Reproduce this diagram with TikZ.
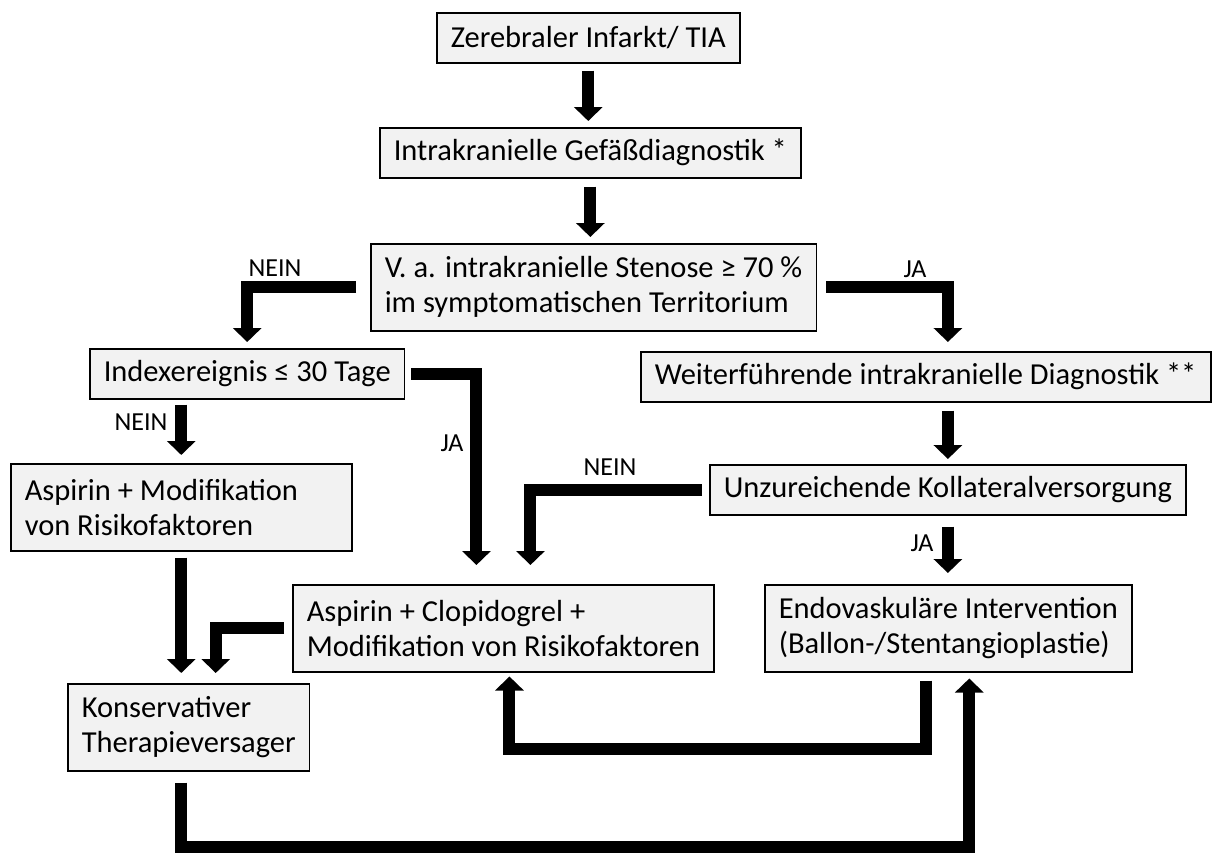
\documentclass[tikz,border=0pt]{standalone}
\usepackage{fontspec}
\setmainfont{Carlito}
\usetikzlibrary{arrows.meta,positioning,calc}
\definecolor{boxfill}{HTML}{F2F2F2}
\tikzset{
  box/.style={
    draw=black,
    fill=boxfill,
    line width=1.5pt,
    align=flush left,
    anchor=north west,
    inner xsep=14pt,
    inner ysep=0pt,
    font=\fontsize{30.5}{35}\selectfont,
  },
  single/.style={box, minimum height=50pt},
  double/.style={box, minimum height=87pt},
  flow/.style={
    -{Triangle[width=28pt, length=14pt]},
    line width=12pt,
    line join=miter,
  },
  tag/.style={
    font=\fontsize{26}{28}\selectfont,
    inner sep=0pt,
  },
}

\begin{document}
\begin{tikzpicture}[x=1pt, y=-1pt]
\useasboundingbox (0,0) rectangle (1212,852);

% === Main column ===
\node[single] (infarkt) at (436,12) {Zerebraler Infarkt/ TIA};
\node[single] (gefaess) at (379,127) {Intrakranielle Gefäßdiagnostik *};
\node[double] (stenose) at (370,243)
  {V. a. intrakranielle Stenose ≥ 70 \%\\im symptomatischen Territorium};

\draw[flow, shorten <=7pt, shorten >=6pt] (infarkt.south) -- (infarkt.south |- gefaess.north);
\draw[flow, shorten <=8pt, shorten >=6pt] (gefaess.south) -- (gefaess.south |- stenose.north);

% === Left branch ===
\node[single] (index) at (89,348) {Indexereignis ≤ 30 Tage};
\node[double, text width=313pt] (aspmod) at (10,463) {Aspirin + Modifikation\\von Risikofaktoren};
\node[double] (konserv) at (67,683) {Konservativer\\Therapieversager};

\node[tag] (nein1) at (275,268) {NEIN};
\node[tag] (nein2) at (141,422) {NEIN};
\node[tag] (ja2) at (452,443) {JA};

\draw[flow, shorten <=14pt, shorten >=6pt] (stenose.west) -| (index.north);
\draw[flow, shorten <=5pt, shorten >=8pt] (index.south -| aspmod.north) -- (aspmod.north);
\draw[flow, shorten <=6pt, shorten >=10pt] (aspmod.south) -- (aspmod.south |- konserv.north);

% === Right branch ===
\node[single, text width=542pt] (weiter) at (640,351) {Weiterführende intrakranielle Diagnostik **};
\node[single] (kollat) at (709,464) {Unzureichende Kollateralversorgung};
\node[double] (endo) at (764,584) {Endovaskuläre Intervention\\(Ballon-/Stentangioplastie)};

\node[tag] (ja1) at (915,269) {JA};
\node[tag] (nein3) at (610,467) {NEIN};
\node[tag] (ja3) at (922,543) {JA};

\draw[flow, shorten <=9pt, shorten >=9pt] (stenose.east) -| (weiter.north -| kollat.north);
\draw[flow, shorten <=8pt, shorten >=5pt] (weiter.south -| kollat.north) -- (kollat.north);
\draw[flow, shorten <=11pt, shorten >=11pt] (kollat.south) -- (kollat.south |- endo.north);

% === Dual therapy ===
\node[double] (aspclop) at (292,584)
  {Aspirin + Clopidogrel +\\Modifikation von Risikofaktoren};

\draw[flow, shorten <=6pt, shorten >=19pt] (index.east) -| ([xshift=-27pt]aspclop.north);
\draw[flow, shorten <=7pt, shorten >=19pt] (kollat.west) -| ([xshift=27pt]aspclop.north);
\draw[flow, shorten <=8pt, shorten >=10pt] (aspclop.west) -| ([xshift=27pt]konserv.north);

% === Feedback loops ===
\draw[flow, shorten <=8pt, shorten >=4pt]
  ([xshift=-22pt]endo.south) -- ++(0,76) -| ([xshift=6pt]aspclop.south);
\draw[flow, shorten <=11pt, shorten >=6pt]
  ([xshift=-8pt]konserv.south) -- ++(0,75) -| ([xshift=21pt]endo.south);

\end{tikzpicture}
\end{document}
